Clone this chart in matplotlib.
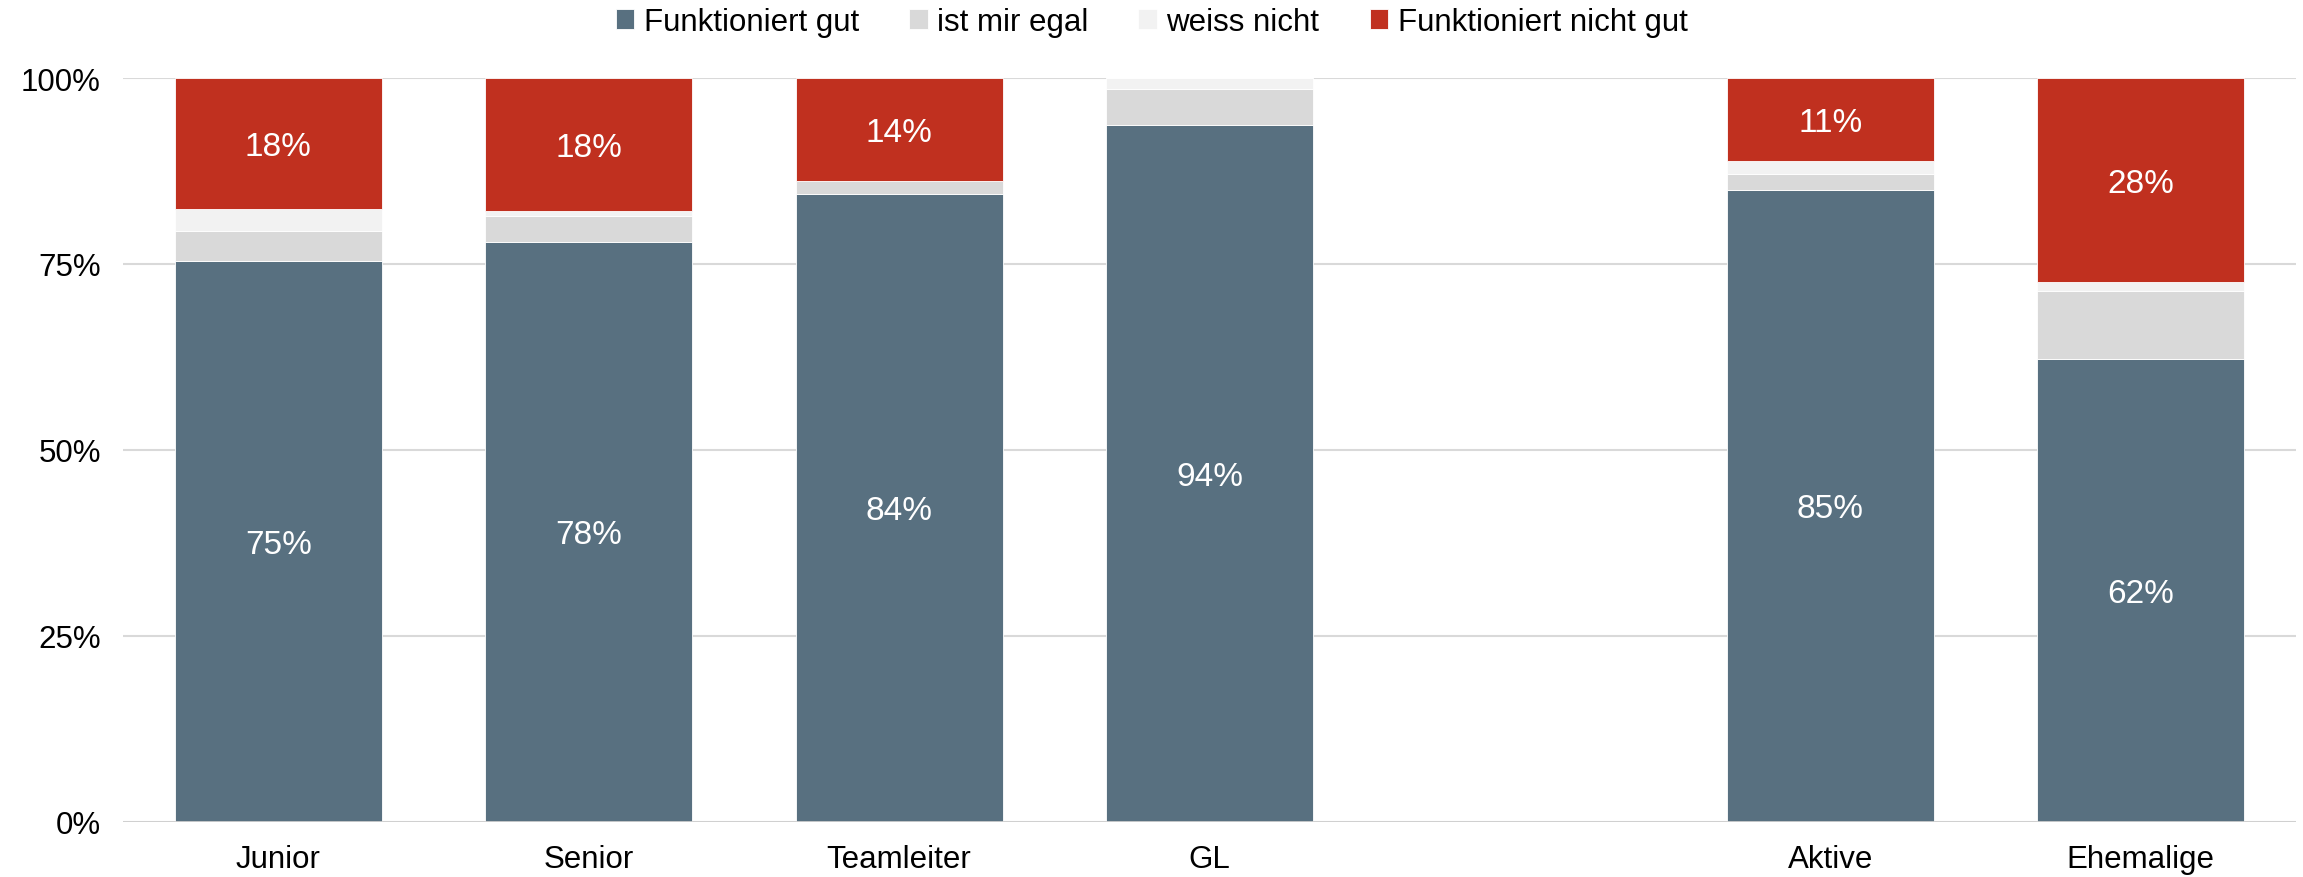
import matplotlib
matplotlib.use('Agg')
import matplotlib.pyplot as plt
from matplotlib.ticker import FuncFormatter
import numpy as np

plt.rcParams['font.family'] = ['Liberation Sans', 'DejaVu Sans']

# data (percent)
categories = ['Junior', 'Senior', 'Teamleiter', 'GL', '', 'Aktive', 'Ehemalige']
gut = [75.4, 77.9, 84.4, 93.7, 0, 84.9, 62.2]
egal = [4.0, 3.6, 1.8, 4.8, 0, 2.2, 9.1]
weiss = [3.0, 0.6, 0.0, 1.5, 0, 1.8, 1.2]
nicht_gut = [17.6, 17.9, 13.8, 0.0, 0, 11.1, 27.5]

series = [
    ('Funktioniert gut', gut, '#587080', True),
    ('ist mir egal', egal, '#d9d9d9', False),
    ('weiss nicht', weiss, '#f2f2f2', False),
    ('Funktioniert nicht gut', nicht_gut, '#c0301f', True),
]

fig = plt.figure(figsize=(23.03, 8.78), dpi=100)
ax = fig.add_axes([123 / 2303, 1 - 822.5 / 878, (2296 - 123) / 2303, (822.5 - 79) / 878])

x = np.arange(len(categories))
bottom = np.zeros(len(categories))
for name, vals, color, labelled in series:
    vals = np.array(vals, dtype=float)
    ax.bar(x, vals, width=0.667, bottom=bottom, color=color, label=name,
           edgecolor='white', linewidth=0.6, zorder=3)
    if labelled:
        for xi, b, v in zip(x, bottom, vals):
            if v >= 5:
                ax.text(xi, b + v / 2 - 0.4, f'{round(v)}%', ha='center', va='center',
                        color='white', fontsize=24, zorder=4)
    bottom += vals

ax.set_xlim(-0.5, len(categories) - 0.5)
ax.set_ylim(0, 100)
ax.set_yticks([0, 25, 50, 75, 100])
ax.yaxis.set_major_formatter(FuncFormatter(lambda v, p: f'{int(v)}%'))
ax.set_xticks(x)
ax.set_xticklabels(categories)
ax.tick_params(axis='both', length=0, labelsize=22.5, colors='black')
ax.tick_params(axis='x', pad=16)
ax.tick_params(axis='y', pad=16)
ax.grid(axis='y', color='#d9d9d9', linewidth=1.5, zorder=0)
for s in ax.spines.values():
    s.set_visible(False)
ax.axhline(0, color='#d0d0d0', linewidth=2, zorder=5)

ax.legend(loc='center', bbox_to_anchor=(0.5, 1 - 23 / 878), bbox_transform=fig.transFigure,
          ncol=4, frameon=False, fontsize=22.5, handlelength=0.6, handleheight=0.6,
          handletextpad=0.3, columnspacing=1.6)

fig.savefig('out.png', dpi=100, facecolor='white')
